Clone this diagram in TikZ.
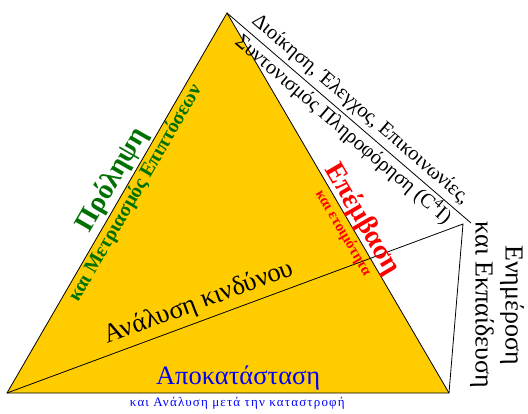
\documentclass[tikz,border=0pt]{standalone}
\usepackage{fontspec}
\setmainfont{Liberation Serif}
\usepackage{tikz}
\usetikzlibrary{positioning}
\definecolor{mygold}{RGB}{255,204,0}
\definecolor{mygreen}{RGB}{0,112,0}
\definecolor{myred}{RGB}{255,0,0}
\definecolor{myblue}{RGB}{0,0,255}
\tikzset{
  edgetext/.style={sloped, inner sep=1pt},
}

\begin{document}
\begin{tikzpicture}[x=1pt,y=-1pt,line width=0.8pt]
\useasboundingbox (0,0) rectangle (528,413);
\coordinate (bl) at (7,393);
\coordinate (apex) at (227,13);
\coordinate (br) at (449,393);
\coordinate (mid) at (463,224);
\coordinate (tip) at (471,223);
\draw[fill=mygold, draw=black] (bl) -- (apex) -- (br) -- cycle;
\draw (bl) -- (mid) -- (br);
\draw (apex) -- (tip);
\path (bl) -- (apex)
  node[edgetext, pos=0.54, above=1pt, text=mygreen, font=\bfseries\fontsize{28}{30}\selectfont] (prolipsi) {Πρόληψη}
  node[edgetext, pos=0.54, below, text=mygreen, font=\bfseries\fontsize{20}{22}\selectfont] (metriasmos) {και Μετριασμός Επιπτόσεων};
\path (apex) -- (br)
  node[edgetext, pos=0.56, above=-2pt, text=myred, font=\bfseries\fontsize{28}{30}\selectfont] (epemvasi) {Επέμβαση}
  node[edgetext, pos=0.565, below=2pt, text=myred, font=\bfseries\fontsize{15}{17}\selectfont] (etoimotita) {και ετοιμότητα};
\path (apex) -- (tip)
  node[edgetext, pos=0.51, above=3pt, font=\fontsize{20.5}{22}\selectfont] (dioikisi) {Διοίκηση, Έλεγχος, Επικοινωνίες,}
  node[edgetext, pos=0.51, below, font=\fontsize{20.5}{22}\selectfont] (syntonismos) {Συντονισμός Πληροφόρηση (C\textsuperscript{4}I)};
\path (bl) -- (mid)
  node[edgetext, pos=0.435, above=4pt, font=\fontsize{26.5}{28}\selectfont] (analysi) {Ανάλυση κινδύνου};
\path (bl) -- (br)
  node[pos=0.523, above=-1pt, text=myblue, font=\fontsize{26.5}{28}\selectfont] (apokatastasi) {Αποκατάσταση}
  node[pos=0.521, below=1pt, text=myblue, font=\fontsize{13}{15}\selectfont\addfontfeature{LetterSpace=9}] (metatin) {και Ανάλυση μετά την καταστροφή};
\node[rotate=-90, align=center, font=\fontsize{26}{30}\selectfont] (enimerosi) at (497,305) {Ενημέροση\\και Εκπαίδευση};
\end{tikzpicture}
\end{document}
